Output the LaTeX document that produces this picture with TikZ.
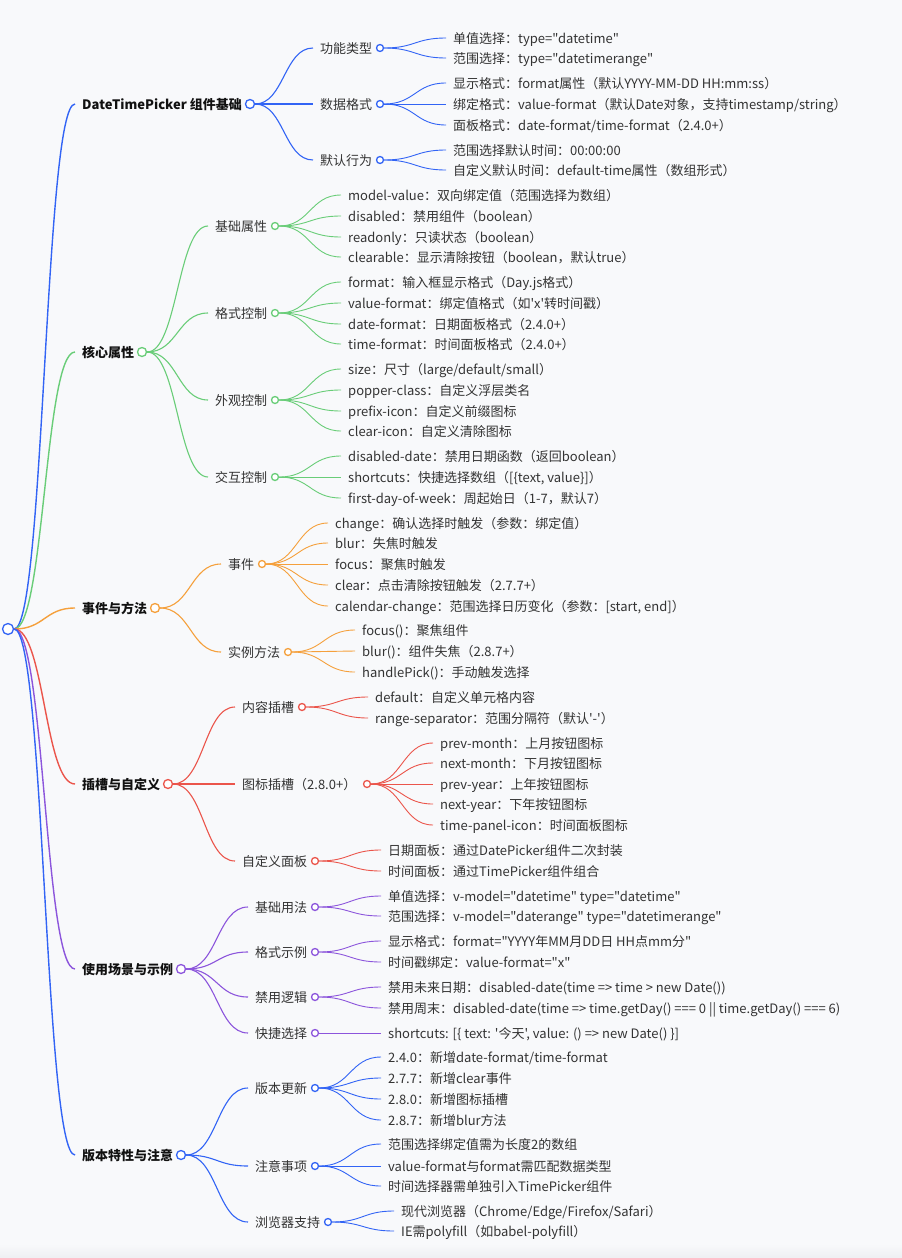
\documentclass[tikz,border=0pt]{standalone}
\usepackage{fontspec}
\setmainfont{Noto Sans CJK SC}[Ligatures=TeXOff]
\usetikzlibrary{calc}
\definecolor{cb}{RGB}{50,100,245}
\definecolor{cg}{RGB}{105,205,120}
\definecolor{co}{RGB}{245,160,60}
\definecolor{cr}{RGB}{235,85,75}
\definecolor{cp}{RGB}{140,85,220}
\definecolor{tx}{RGB}{51,51,51}
\definecolor{tb}{RGB}{17,17,17}
\definecolor{bg}{RGB}{248,249,251}
\definecolor{bgd}{RGB}{238,239,242}
\tikzset{
  lf/.style={anchor=west, inner sep=0pt, text height=12pt, text depth=2pt, text=tx, font=\fontsize{13}{16}\selectfont},
  l1/.style={lf, text=tb, font=\fontsize{13}{16}\selectfont\bfseries},
  dot/.style={circle, draw=#1, fill=white, inner sep=0pt, line width=1.3pt},
}
\newcommand\tn[5]{\node[#2] (#1) at (#3,#4) {#5}; \coordinate (#1-in) at ({#3-7},#4);}
\newcommand\dt[5]{\node[dot=#2, minimum size=#5] (#1) at (#3,#4) {};}
\newcommand\lk[4]{\draw[#1, line width=#2] let \p1=(#3), \p2=(#4) in (\p1) .. controls ({(\x1+\x2)/2},\y1) and ({(\x1+\x2)/2},\y2) .. (\p2);}
\begin{document}
\begin{tikzpicture}[x=1pt,y=-1pt]
\fill[bg] (0,0) rectangle (902,1258);
\useasboundingbox (0,0) rectangle (902,1258);
\shade[top color=bg, bottom color=bgd] (0,1244) rectangle (902,1258);
% root
\dt{r}{cb}{8}{629}{11pt}
% level 1
\tn{a}{l1}{82}{104}{DateTimePicker 组件基础}
\tn{b}{l1}{82}{352}{核心属性}
\tn{c}{l1}{82}{608}{事件与方法}
\tn{d}{l1}{82}{784}{插槽与自定义}
\tn{e}{l1}{82}{969}{使用场景与示例}
\tn{f}{l1}{82}{1155}{版本特性与注意}
\node[dot=cb, minimum size=9pt] (a-c) at ([xshift=8]a.east) {};
\dt{b-c}{cg}{142}{352}{9pt}
\dt{c-c}{co}{155}{608}{9pt}
\dt{d-c}{cr}{168}{784}{9pt}
\dt{e-c}{cp}{181}{969}{9pt}
\dt{f-c}{cb}{181}{1155}{9pt}
\lk{cb}{1.4pt}{r.east}{a-in}
\lk{cg}{1.4pt}{r.east}{b-in}
\lk{co}{1.4pt}{r.east}{c-in}
\lk{cr}{1.4pt}{r.east}{d-in}
\lk{cp}{1.4pt}{r.east}{e-in}
\lk{cb}{1.4pt}{r.east}{f-in}
% ===== group a =====
\tn{a1}{lf}{320}{48}{功能类型}
\tn{a2}{lf}{320}{104}{数据格式}
\tn{a3}{lf}{320}{160}{默认行为}
\dt{a1-c}{cb}{380}{48}{7pt}
\dt{a2-c}{cb}{380}{104}{7pt}
\dt{a3-c}{cb}{380}{160}{7pt}
\lk{cb}{1.1pt}{a-c.east}{a1-in}
\lk{cb}{1.1pt}{a-c.east}{a2-in}
\lk{cb}{1.1pt}{a-c.east}{a3-in}
\tn{a11}{lf}{453}{38}{单值选择：type="datetime"}
\tn{a12}{lf}{453}{58}{范围选择：type="datetimerange"}
\tn{a21}{lf}{453}{83}{显示格式：format属性（默认YYYY-MM-DD HH:mm:ss）}
\tn{a22}{lf}{453}{104}{绑定格式：value-format（默认Date对象，支持timestamp/string）}
\tn{a23}{lf}{453}{125}{面板格式：date-format/time-format（2.4.0+）}
\tn{a31}{lf}{453}{150}{范围选择默认时间：00:00:00}
\tn{a32}{lf}{453}{170}{自定义默认时间：default-time属性（数组形式）}
\foreach \k in {a11,a12} {\lk{cb}{0.9pt}{a1-c.east}{\k-in}}
\foreach \k in {a21,a22,a23} {\lk{cb}{0.9pt}{a2-c.east}{\k-in}}
\foreach \k in {a31,a32} {\lk{cb}{0.9pt}{a3-c.east}{\k-in}}
% ===== group b =====
\tn{b1}{lf}{215}{226}{基础属性}
\tn{b2}{lf}{215}{313}{格式控制}
\tn{b3}{lf}{215}{400}{外观控制}
\tn{b4}{lf}{215}{477}{交互控制}
\dt{b1-c}{cg}{275}{226}{7pt}
\dt{b2-c}{cg}{275}{313}{7pt}
\dt{b3-c}{cg}{275}{400}{7pt}
\dt{b4-c}{cg}{275}{477}{7pt}
\foreach \k in {b1,b2,b3,b4} {\lk{cg}{1.1pt}{b-c.east}{\k-in}}
\tn{b11}{lf}{348}{195}{model-value：双向绑定值（范围选择为数组）}
\tn{b12}{lf}{348}{216}{disabled：禁用组件（boolean）}
\tn{b13}{lf}{348}{237}{readonly：只读状态（boolean）}
\tn{b14}{lf}{348}{257}{clearable：显示清除按钮（boolean，默认true）}
\tn{b21}{lf}{348}{282}{format：输入框显示格式（Day.js格式）}
\tn{b22}{lf}{348}{303}{value-format：绑定值格式（如'x'转时间戳）}
\tn{b23}{lf}{348}{324}{date-format：日期面板格式（2.4.0+）}
\tn{b24}{lf}{348}{344}{time-format：时间面板格式（2.4.0+）}
\tn{b31}{lf}{348}{369}{size：尺寸（large/default/small）}
\tn{b32}{lf}{348}{390}{popper-class：自定义浮层类名}
\tn{b33}{lf}{348}{411}{prefix-icon：自定义前缀图标}
\tn{b34}{lf}{348}{431}{clear-icon：自定义清除图标}
\tn{b41}{lf}{348}{456}{disabled-date：禁用日期函数（返回boolean）}
\tn{b42}{lf}{348}{477}{shortcuts：快捷选择数组（[\{text, value\}]）}
\tn{b43}{lf}{348}{498}{first-day-of-week：周起始日（1-7，默认7）}
\foreach \k in {b11,b12,b13,b14} {\lk{cg}{0.9pt}{b1-c.east}{\k-in}}
\foreach \k in {b21,b22,b23,b24} {\lk{cg}{0.9pt}{b2-c.east}{\k-in}}
\foreach \k in {b31,b32,b33,b34} {\lk{cg}{0.9pt}{b3-c.east}{\k-in}}
\foreach \k in {b41,b42,b43} {\lk{cg}{0.9pt}{b4-c.east}{\k-in}}
% ===== group c =====
\tn{c1}{lf}{228}{564}{事件}
\tn{c2}{lf}{228}{652}{实例方法}
\dt{c1-c}{co}{262}{564}{7pt}
\dt{c2-c}{co}{288}{652}{7pt}
\foreach \k in {c1,c2} {\lk{co}{1.1pt}{c-c.east}{\k-in}}
\tn{c11}{lf}{335}{523}{change：确认选择时触发（参数：绑定值）}
\tn{c12}{lf}{335}{543}{blur：失焦时触发}
\tn{c13}{lf}{335}{564}{focus：聚焦时触发}
\tn{c14}{lf}{335}{585}{clear：点击清除按钮触发（2.7.7+）}
\tn{c15}{lf}{335}{606}{calendar-change：范围选择日历变化（参数：[start, end]）}
\tn{c21}{lf}{362}{630}{focus()：聚焦组件}
\tn{c22}{lf}{362}{651}{blur()：组件失焦（2.8.7+）}
\tn{c23}{lf}{362}{672}{handlePick()：手动触发选择}
\foreach \k in {c11,c12,c13,c14,c15} {\lk{co}{0.9pt}{c1-c.east}{\k-in}}
\foreach \k in {c21,c22,c23} {\lk{co}{0.9pt}{c2-c.east}{\k-in}}
% ===== group d =====
\tn{d1}{lf}{242}{707}{内容插槽}
\tn{d2}{lf}{242}{784}{图标插槽（2.8.0+）}
\tn{d3}{lf}{242}{861}{自定义面板}
\dt{d1-c}{cr}{302}{707}{7pt}
\dt{d2-c}{cr}{367}{784}{7pt}
\dt{d3-c}{cr}{315}{861}{7pt}
\foreach \k in {d1,d2,d3} {\lk{cr}{1.1pt}{d-c.east}{\k-in}}
\tn{d11}{lf}{375}{697}{default：自定义单元格内容}
\tn{d12}{lf}{375}{718}{range-separator：范围分隔符（默认'-'）}
\tn{d21}{lf}{440}{743}{prev-month：上月按钮图标}
\tn{d22}{lf}{440}{763}{next-month：下月按钮图标}
\tn{d23}{lf}{440}{784}{prev-year：上年按钮图标}
\tn{d24}{lf}{440}{804}{next-year：下年按钮图标}
\tn{d25}{lf}{440}{825}{time-panel-icon：时间面板图标}
\tn{d31}{lf}{388}{850}{日期面板：通过DatePicker组件二次封装}
\tn{d32}{lf}{388}{871}{时间面板：通过TimePicker组件组合}
\foreach \k in {d11,d12} {\lk{cr}{0.9pt}{d1-c.east}{\k-in}}
\foreach \k in {d21,d22,d23,d24,d25} {\lk{cr}{0.9pt}{d2-c.east}{\k-in}}
\foreach \k in {d31,d32} {\lk{cr}{0.9pt}{d3-c.east}{\k-in}}
% ===== group e =====
\tn{e1}{lf}{255}{907}{基础用法}
\tn{e2}{lf}{255}{952}{格式示例}
\tn{e3}{lf}{255}{997}{禁用逻辑}
\tn{e4}{lf}{255}{1033}{快捷选择}
\dt{e1-c}{cp}{315}{907}{7pt}
\dt{e2-c}{cp}{315}{952}{7pt}
\dt{e3-c}{cp}{315}{997}{7pt}
\dt{e4-c}{cp}{315}{1033}{7pt}
\foreach \k in {e1,e2,e3,e4} {\lk{cp}{1.1pt}{e-c.east}{\k-in}}
\tn{e11}{lf}{388}{896}{单值选择：v-model="datetime" type="datetime"}
\tn{e12}{lf}{388}{916}{范围选择：v-model="daterange" type="datetimerange"}
\tn{e21}{lf}{388}{941}{显示格式：format="YYYY年MM月DD日 HH点mm分"}
\tn{e22}{lf}{388}{962}{时间戳绑定：value-format="x"}
\tn{e31}{lf}{388}{987}{禁用未来日期：disabled-date(time => time > new Date())}
\tn{e32}{lf}{388}{1008}{禁用周末：disabled-date(time => time.getDay() === 0 || time.getDay() === 6)}
\tn{e41}{lf}{388}{1033}{shortcuts: [\{ text: '今天', value: () => new Date() \}]}
\foreach \k in {e11,e12} {\lk{cp}{0.9pt}{e1-c.east}{\k-in}}
\foreach \k in {e21,e22} {\lk{cp}{0.9pt}{e2-c.east}{\k-in}}
\foreach \k in {e31,e32} {\lk{cp}{0.9pt}{e3-c.east}{\k-in}}
\lk{cp}{0.9pt}{e4-c.east}{e41-in}
% ===== group f =====
\tn{f1}{lf}{255}{1088}{版本更新}
\tn{f2}{lf}{255}{1166}{注意事项}
\tn{f3}{lf}{255}{1222}{浏览器支持}
\dt{f1-c}{cb}{315}{1088}{7pt}
\dt{f2-c}{cb}{315}{1166}{7pt}
\dt{f3-c}{cb}{328}{1222}{7pt}
\foreach \k in {f1,f2,f3} {\lk{cb}{1.1pt}{f-c.east}{\k-in}}
\tn{f11}{lf}{388}{1057}{2.4.0：新增date-format/time-format}
\tn{f12}{lf}{388}{1078}{2.7.7：新增clear事件}
\tn{f13}{lf}{388}{1099}{2.8.0：新增图标插槽}
\tn{f14}{lf}{388}{1120}{2.8.7：新增blur方法}
\tn{f21}{lf}{388}{1144}{范围选择绑定值需为长度2的数组}
\tn{f22}{lf}{388}{1166}{value-format与format需匹配数据类型}
\tn{f23}{lf}{388}{1186}{时间选择器需单独引入TimePicker组件}
\tn{f31}{lf}{401}{1211}{现代浏览器（Chrome/Edge/Firefox/Safari）}
\tn{f32}{lf}{401}{1231}{IE需polyfill（如babel-polyfill）}
\foreach \k in {f11,f12,f13,f14} {\lk{cb}{0.9pt}{f1-c.east}{\k-in}}
\foreach \k in {f21,f22,f23} {\lk{cb}{0.9pt}{f2-c.east}{\k-in}}
\foreach \k in {f31,f32} {\lk{cb}{0.9pt}{f3-c.east}{\k-in}}
\end{tikzpicture}
\end{document}
